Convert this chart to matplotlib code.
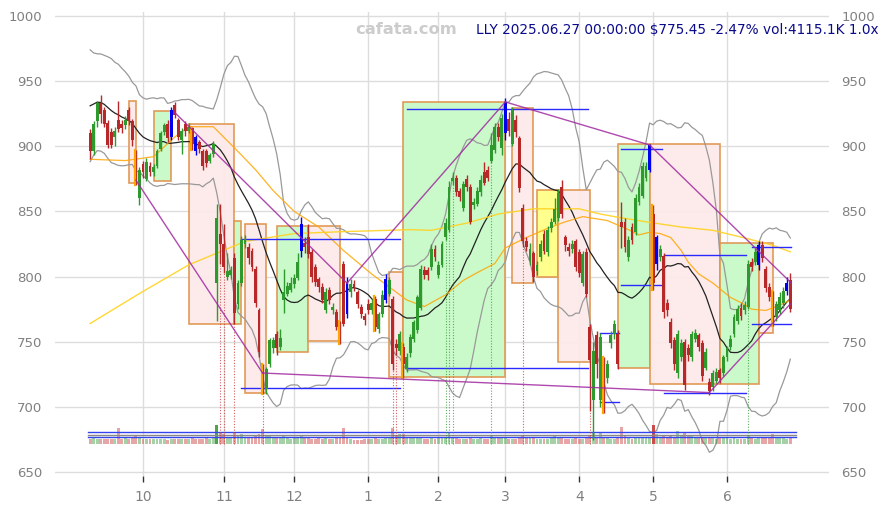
import numpy as np
import pandas as pd
import matplotlib
matplotlib.use("Agg")
import matplotlib.pyplot as plt
from matplotlib.patches import Rectangle

# trading days Sep 10 2024 .. Jun 27 2025
holidays = ["2024-11-28", "2024-12-25", "2025-01-01", "2025-01-09", "2025-01-20",
            "2025-02-17", "2025-04-18", "2025-05-26", "2025-06-19"]
dates = pd.bdate_range("2024-09-10", "2025-06-27")
dates = dates[~dates.isin(pd.to_datetime(holidays))]
assert len(dates) == 200

opens = [910,896,919,933,928,918,911,907,920,917, 916,928,919,889,860,886,875,885,880,885,
         898,911,917,907,932,920,905,917,912,914, 907,903,896,896,889,894,795,833,825,800,
         801,814,779,795,825,823,820,806,774,730, 714,733,745,756,746,782,787,790,794,799,
         820,826,830,819,807,798,792,774,790,774, 773,764,810,796,788,794,788,777,770,779,
         774,783,760,771,782,787,783,748,743,746, 729,741,752,759,776,805,805,807,821,801,
         809,830,836,873,876,866,853,875,869,855, 856,865,880,882,889,897,915,899,910,921,
         902,920,906,853,827,812,818,804,815,833, 819,837,842,845,869,830,823,821,827,819,
         795,819,761,705,755,705,728,722,749,756, 756,842,842,815,838,834,857,862,876,882,
         848,810,815,816,780,765,751,726,738,750, 745,738,752,755,749,730,719,715,720,728,
         726,738,746,756,766,776,774,777,811,811, 809,824,806,792,787,769,774,780,789,797]
highs = [913,919,935,939,930,920,914,915,935,920, 923,930,921,897,884,889,891,888,886,898,
         912,918,920,930,934,922,914,919,918,915, 909,905,898,898,895,904,856,856,840,818,
         808,818,797,831,832,826,822,808,776,733, 731,753,754,758,760,806,796,800,802,818,
         846,830,840,821,810,800,795,791,792,780, 775,766,812,800,798,797,790,779,772,783,
         783,785,773,790,802,800,785,752,758,749, 741,756,767,786,809,808,807,825,824,812,
         827,845,873,880,878,868,873,878,871,860, 869,878,888,885,910,918,918,925,937,926,
         930,924,908,856,830,826,820,812,828,836, 839,845,860,867,874,832,826,828,829,821,
         820,822,764,750,758,757,738,736,758,767, 759,857,845,831,841,863,872,888,888,902,
         855,832,824,818,783,768,754,759,752,752, 748,758,760,757,751,745,722,728,730,730,
         740,747,755,771,778,780,781,813,814,822, 827,827,808,795,789,781,788,792,800,803]
lows = [890,893,915,918,915,899,899,900,911,910, 913,916,900,870,855,876,873,877,877,883,
        896,909,903,905,922,905,894,908,910,897, 893,895,882,884,887,892,766,810,803,797,
        798,764,775,793,822,810,804,777,738,710, 710,731,741,740,744,772,785,788,791,797,
        815,818,814,796,793,788,780,772,779,771, 759,748,762,768,784,789,776,768,763,771,
        771,758,757,769,780,785,728,740,740,722, 727,738,750,757,774,798,797,805,812,799,
        807,828,834,870,862,858,850,866,840,852, 854,862,870,873,887,895,904,893,905,908,
        900,907,865,823,820,809,796,801,812,817, 816,834,840,843,845,820,816,818,804,800,
        793,784,697,675,722,700,695,718,745,752, 729,822,819,812,825,832,855,860,873,880,
        790,805,812,768,770,745,728,722,735,713, 735,735,750,743,720,728,709,712,718,718,
        724,735,744,754,764,767,771,775,804,809, 805,811,788,781,762,766,771,776,786,773]
closes = [896,917,933,925,917,901,901,912,913,914, 920,919,905,874,882,880,888,880,884,896,
          910,916,906,928,924,907,912,912,915,902, 896,898,885,887,893,902,845,825,807,804,
          805,772,795,828,829,814,807,780,742,722, 729,751,751,745,753,788,793,795,799,811,
          840,823,817,800,796,792,782,788,782,777, 761,753,764,771,794,792,779,771,767,774,
          780,761,771,786,798,797,733,745,756,733, 738,754,765,784,806,801,801,821,815,809,
          825,841,869,876,865,861,871,869,842,857, 866,874,872,876,901,915,907,922,934,912,
          928,911,868,827,823,821,800,809,825,820, 836,842,852,864,848,824,820,825,807,803,
          817,787,736,743,733,754,718,733,755,764, 733,838,823,828,828,860,869,885,885,901,
          795,830,821,773,774,749,733,756,749,717, 740,756,757,746,724,742,712,726,727,722,
          738,745,752,769,775,770,778,810,807,819, 824,814,791,784,764,779,784,789,795.1,775.45]
# volume, millions of shares
volume = [3.6,4.3,3.6,3.6,3.4,3.6,3.6,3.4,10.5,3.6, 4.4,3.5,4.4,5.6,4.4,3.6,3.2,3.6,3.2,3.6,
          3.4,3.6,3.0,3.6,3.4,3.6,3.2,3.4,3.6,4.4, 3.6,3.4,3.2,4.2,3.6,3.8,12.6,8.0,6.6,4.4,
          4.4,8.2,5.4,6.6,4.2,4.4,4.4,5.8,6.6,10.0, 6.0,5.4,5.0,4.4,4.8,6.2,4.6,3.6,4.2,4.0,
          5.2,4.4,4.2,3.6,3.6,3.8,3.6,3.8,3.2,3.6, 4.0,4.6,10.8,4.4,3.6,2.6,2.8,3.0,3.2,3.2,
          3.6,4.2,3.6,3.6,3.8,3.8,10.4,6.2,6.6,6.6, 5.0,4.0,4.4,4.0,4.4,3.6,3.6,4.2,3.6,3.8,
          4.2,5.0,7.2,5.0,3.8,3.4,3.2,3.4,4.0,3.6, 3.6,3.8,3.6,3.2,6.0,4.4,3.8,4.0,4.4,3.6,
          3.6,3.6,5.0,6.0,4.4,3.8,4.4,3.6,3.2,3.6, 3.6,4.4,6.0,4.2,4.0,3.6,3.4,3.6,3.8,3.6,
          3.6,4.8,6.0,7.2,5.0,7.2,5.0,3.8,3.6,3.4, 4.0,11.4,5.4,4.0,3.6,4.4,4.0,4.4,3.8,5.0,
          12.6,7.0,5.0,6.0,5.0,6.0,5.0,9.0,5.6,7.2, 5.6,5.2,4.4,4.2,4.4,3.8,4.0,4.2,3.6,3.8,
          3.8,4.4,3.6,3.8,3.6,3.2,3.6,6.0,4.2,3.6, 4.4,3.8,4.2,4.2,6.6,4.2,4.0,3.8,3.6,4.12]

# closes before the window (only feed the 20-day band at the left edge)
prior_closes = [890,905,930,945,950,948,950,940,948,945,947,950,952,955,935,920,905,900,910]

# 50- and 200-day averages (bar index, value)
sma50_bar = [0,10,18,24,28,35,42,47,52,58,65,72,80,86,90,95,101,106,110,115,
             118,124,130,135,140,147,153,156,159,162,165,168,170,173,177,182,185,188,192,196,199]
sma50_val = [890,889,892,907,915,915,896,882,866,850,838,820,802,790,782,777,786,797,803,810,
             822,830,837,842,846,843,836,832,834,833,830,820,811,802,795,784,780,775,774,778,782]
sma200_bar = [0,14,28,44,58,72,91,97,107,116,126,135,139,145,149,158,168,177,187,194,199]
sma200_val = [764,787,809,827,833,834.5,836,835.5,841,848,852,852,852,848,846,842,838,835.5,829,824,819]

# swing markers
blue_bars = [23,30,60,73,84,118,159,161,190,198]
orange_bars = [13,29,49,71,81,89,146,160,194]
signal_bars = [37,38,41,49,86,87,89,101,102,103,114,123,142,187]

# range boxes: start bar, end bar, top, bottom, kind
box_start = [11,18,28,41,44,53,62,85,89,120,127,133,150,159,179,190]
box_end = [13,23,41,43,50,62,71,89,118,126,133,142,159,179,190,194]
box_top = [935,927,917,843,840,839,839,803.5,934,929,866.5,866.5,902,902,825.6,825.6]
box_bot = [872,873.4,764,764,710.4,742.4,750.6,722.7,722.7,795.3,800,734.7,729.6,717.6,717.6,756.5]
box_kind = ["dn","up","dn","up","dn","up","dn","dn","up","dn","mid","dn","up","dn","up","dn"]

# support / resistance segments
lvl_start = [43,43,90,90,145,145,151,151,163,163,188,188]
lvl_end = [88,88,141.6,141.6,150.3,150.3,162.4,162.4,186.3,186.3,199.3,199.3]
lvl_val = [828.6,714.3,928.4,729.6,757,703.5,897.7,793.6,816.6,710.4,822.5,763.4]

# trend lines between pivots: (bar, price) pairs
trend_lines = [((13, 874), (49, 726)), ((49, 726), (176, 711)), ((176, 711), (199, 779)),
               ((24, 926), (73, 795)), ((73, 795), (118, 934)),
               ((118, 934), (159, 901)), ((159, 901), (199.3, 795))]

o = np.array(opens, float)
h = np.array(highs, float)
l = np.array(lows, float)
c = np.array(closes, float)
v = np.array(volume, float)
x = np.arange(len(c))

allc = pd.Series(prior_closes + closes)
mid = allc.rolling(20).mean().to_numpy()[len(prior_closes):]
sd = allc.rolling(20).std(ddof=0).to_numpy()[len(prior_closes):]

fig = plt.figure(figsize=(8.89, 5.09), dpi=100)
ax = fig.add_axes([55/889, 33/509, 774/889, 464/509])
ax.set_xlim(-10, 210)
ax.set_ylim(647, 1003)

grid_c = "#dddddd"
ax.set_yticks(np.arange(650, 1001, 50))
month_first = [i for i in range(1, len(dates)) if dates[i].month != dates[i-1].month]
ax.set_xticks(month_first)
ax.set_xticklabels([str(dates[i].month) for i in month_first])
ax.grid(True, color=grid_c, lw=1, zorder=0)
ax.set_axisbelow(True)
for s in ax.spines.values():
    s.set_visible(False)
ax.tick_params(axis="y", length=0, labelleft=True, labelright=True, labelsize=9.5,
               labelcolor="#808080", pad=9)
ax.tick_params(axis="x", length=4, width=1, color="#333333", labelsize=10,
               labelcolor="#808080", pad=6)

# boxes
fills = {"up": "#c8fac8", "dn": "#fdeaea", "mid": "#ffff88"}
for s0, s1, t, b, k in zip(box_start, box_end, box_top, box_bot, box_kind):
    ax.add_patch(Rectangle((s0, b), s1 - s0, t - b, facecolor=fills[k],
                           edgecolor="#e0954f", lw=1.2, alpha=0.95, zorder=1))

# indicators
ax.plot(x, mid + 2*sd, color="#999999", lw=0.9, zorder=2)
ax.plot(x, mid - 2*sd, color="#999999", lw=0.9, zorder=2)
ax.plot(x, mid, color="#222222", lw=0.9, zorder=2)
ax.plot(sma50_bar, sma50_val, color="#ffa500", lw=0.9, alpha=0.85, zorder=2)
ax.plot(sma200_bar, sma200_val, color="#ffd21f", lw=1.0, alpha=0.9, zorder=2)

# levels
for s0, s1, y in zip(lvl_start, lvl_end, lvl_val):
    ax.plot([s0, s1], [y, y], color="#2a2aff", lw=1, zorder=3)

# volume at the bottom
vol_base, vol_scale = 671.5, 1.15
up = c >= o
vcol = np.where(up, "#3a9a3a", "#c83a3a")
for i in range(len(v)):
    a = 0.9 if v[i] > 12 else 0.45
    ax.bar(x[i], v[i]*vol_scale, bottom=vol_base, width=0.82, color=vcol[i],
           alpha=a, lw=0, zorder=2)
vm, vs = v.mean(), v.std()
for lev, col in [(vm, "#3344ee"), (vm + vs, "#888888"), (vm + 2*vs, "#3344ee")]:
    ax.plot([-0.5, 200.5], [vol_base + lev*vol_scale]*2, color=col, lw=1, zorder=3)

# signal markers
for i in signal_bars:
    ax.plot([i, i], [vol_base, l[i]], color="#3a9a3a" if up[i] else "#c83a3a",
            ls=(0, (1, 1.5)), lw=0.8, alpha=0.8, zorder=3)

# candles
ccol = np.where(up, "#2e9a2e", "#b82828").astype(object)
for i in blue_bars:
    ccol[i] = "#0000ee"
ax.vlines(x, l, h, colors=list(ccol), lw=1.0, zorder=4)
body = np.maximum(np.abs(c - o), 0.8)
ax.bar(x, body, bottom=np.minimum(o, c), width=0.82, color=list(ccol), lw=0, zorder=4)
for i in orange_bars:
    ax.plot([i - 0.3, i - 0.3], [l[i], h[i]], color="#ffa500", lw=1.6, zorder=5)

# trend lines
for (x0, y0), (x1, y1) in trend_lines:
    ax.plot([x0, x1], [y0, y1], color="#a02aa0", lw=1, alpha=0.85, zorder=5)

fig.text(406/889, 1 - 30/509, "cafata.com", color="#cccccc", fontsize=11.8,
         fontweight="bold", ha="center", va="center")
fig.text(879/889, 1 - 30/509, "LLY 2025.06.27 00:00:00 $775.45 -2.47% vol:4115.1K 1.0x",
         color="#0a0a8c", fontsize=9.8, ha="right", va="center")

fig.savefig("out.png", dpi=100)
